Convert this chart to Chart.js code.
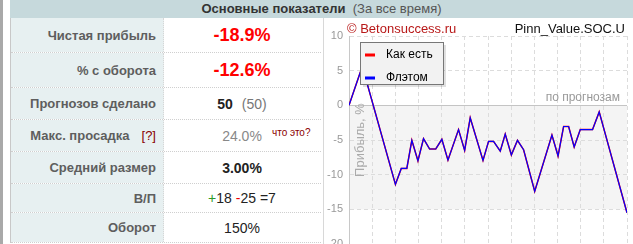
<!DOCTYPE html>
<html>
<head>
    <meta charset="utf-8">
    <title>Основные показатели</title>
    <script src="https://cdn.jsdelivr.net/npm/chart.js"></script>
    <style>
        body { margin: 0; width: 633px; height: 244px; overflow: hidden; position: relative; background: #fff;
               font-family: 'Liberation Sans', Arial, sans-serif; }
        #bar { position: absolute; left: 0; top: 0; width: 3px; height: 244px; background: #a9a9a9; }
        #head { position: absolute; left: 10px; top: 0; width: 623px; height: 18px; background: #c6d9dc;
                text-align: center; font-size: 13px; line-height: 17px; color: #333; }
        #head span { color: #555; }
        #stats { position: absolute; left: 10px; top: 18px; width: 310px; border-left: 1px solid #c8c8c8; }
        .row { display: flex; border-bottom: 1px dotted #cfcfcf; box-sizing: border-box; }
        .lab { width: 153px; background: #e7f0f1; text-align: right; padding-right: 7px; box-sizing: border-box;
               font-size: 13px; font-weight: bold; color: #5e5e5e; display: flex; align-items: center; justify-content: flex-end;
               border-right: 1px dotted #d6d6d6; }
        .val { width: 156px; text-align: center; font-size: 14px; color: #222; display: flex; align-items: center;
               justify-content: center; position: relative; }
        .q { color: #800; font-weight: normal; margin-left: 12px; }
        #panel { position: absolute; left: 323px; top: 18px; width: 310px; height: 250px; background: #fff;
                 border-left: 1px solid #d8d8d8; }
        #grafico { position: absolute; left: 0; top: 1px; }
        #copy { position: absolute; left: 23px; top: 3px; font-size: 13px; color: #b81818; }
        #nome { position: absolute; right: 9px; top: 3px; font-size: 13px; color: #111; }
    </style>
</head>
<body>
    <div id="bar"></div>
    <div id="head"><b>Основные показатели</b>&nbsp; <span>(За все время)</span></div>
    <div id="stats">
        <div class="row" style="height:35px"><div class="lab">Чистая прибыль</div><div class="val" style="font-size:18px;font-weight:bold;color:#f00">-18.9%</div></div>
        <div class="row" style="height:35px"><div class="lab">% с оборота</div><div class="val" style="font-size:18px;font-weight:bold;color:#f00">-12.6%</div></div>
        <div class="row" style="height:32px"><div class="lab">Прогнозов сделано</div><div class="val"><b>50</b><span style="color:#777;margin-left:9px">(50)</span></div></div>
        <div class="row" style="height:32px"><div class="lab">Макс. просадка<span class="q">[?]</span></div><div class="val" style="color:#888">24.0%<span style="position:absolute;left:108px;top:7px;font-size:10px;color:#8b0000">что это?</span></div></div>
        <div class="row" style="height:32px"><div class="lab">Средний размер</div><div class="val" style="font-weight:bold">3.00%</div></div>
        <div class="row" style="height:29px"><div class="lab">В/П</div><div class="val"><span style="color:#2a9a2a">+</span>18&nbsp;<span style="color:#e00">-</span>25&nbsp;=7</div></div>
        <div class="row" style="height:30px"><div class="lab">Оборот</div><div class="val">150%</div></div>
    </div>
    <div id="panel">
        <canvas id="grafico" width="310" height="245"></canvas>
        <div id="copy">© Betonsuccess.ru</div>
        <div id="nome">Pinn_Value.SOC.U</div>
    </div>
    <script>
        // номер прогноза (по оси X) и накопленная прибыль, % — вершины ломаной
        const prognozy = [0, 2.0, 3.1, 8.35, 9.4, 10.4, 11.3, 12.4, 13.4, 14.5, 15.6, 16.7, 17.8, 19.7, 20.8, 21.8,
            24.1, 25.1, 26.0, 27.2, 28.1, 29.2, 30.3, 31.4, 33.4, 36.5, 37.6, 38.6, 39.5, 40.5, 41.6, 43.8, 45.0, 50.0];
        const pribylFlat = [0, 4.7, 3.6, -11.4, -9.1, -9.1, -5.05, -8.0, -4.8, -6.3, -6.3, -4.9, -7.9, -3.5, -6.5, -1.8,
            -7.95, -5.2, -5.2, -6.6, -4.15, -7.15, -5.05, -6.4, -12.4, -4.3, -7.3, -3.05, -3.05, -6.0, -3.5, -3.5, -0.95, -15.5];
        // "Как есть" совпадает с "Флэтом" (все ставки одного размера)
        const pribylKakEst = pribylFlat;
        const seriesLabels = ['Как есть', 'Флэтом'];
        const yMin = -20, yMax = 10, yStep = 5;
        const xMax = 50;

        const fonte = "'Liberation Sans', Arial, sans-serif";

        const fundo = {
            id: 'fundo',
            beforeDraw(chart) {
                const { ctx, chartArea: a, scales: { y } } = chart;
                ctx.save();
                ctx.fillStyle = '#f4f4f4';
                ctx.fillRect(a.left, y.getPixelForValue(0), a.right - a.left, y.getPixelForValue(-15) - y.getPixelForValue(0));
                ctx.restore();
            },
            beforeDatasetsDraw(chart) {
                const { ctx, chartArea: a, scales: { y } } = chart;
                ctx.save();
                ctx.font = '12px ' + fonte;
                ctx.fillStyle = '#999';
                ctx.textAlign = 'right';
                ctx.textBaseline = 'alphabetic';
                ctx.fillText('по прогнозам', a.right - 7, y.getPixelForValue(0) - 4);
                ctx.translate(a.left + 11, y.getPixelForValue(-5));
                ctx.rotate(-Math.PI / 2);
                ctx.font = '13px ' + fonte;
                ctx.fillStyle = '#aaa';
                ctx.textAlign = 'center';
                ctx.textBaseline = 'middle';
                ctx.fillText('Прибыль, %', 0, 0);
                ctx.restore();
            },
            afterDraw(chart) {
                const { ctx, chartArea: a } = chart;
                const lx = a.left + 11, ly = a.top + 6, w = 83, h = 42;
                ctx.save();
                ctx.fillStyle = 'rgba(0,0,0,0.12)';
                ctx.fillRect(lx + 3, ly + 3, w, h);
                ctx.fillStyle = '#f2f2f2';
                ctx.fillRect(lx, ly, w, h);
                ctx.strokeStyle = '#777';
                ctx.lineWidth = 1;
                ctx.strokeRect(lx + 0.5, ly + 0.5, w, h);
                ctx.font = '12px ' + fonte;
                ctx.textBaseline = 'middle';
                chart.data.datasets.forEach((ds, i) => {
                    const yy = ly + 13 + i * 23;
                    ctx.fillStyle = ds.borderColor;
                    ctx.fillRect(lx + 5, yy - 1.5, 10, 3);
                    ctx.fillStyle = '#000';
                    ctx.fillText(ds.label, lx + 26, yy);
                });
                ctx.restore();
            }
        };

        const pontos = arr => prognozy.map((x, i) => ({ x: x, y: arr[i] }));

        const ctx = document.getElementById('grafico').getContext('2d');
        const grafico = new Chart(ctx, {
            type: 'line',
            data: {
                datasets: [{
                    label: seriesLabels[0],
                    data: pontos(pribylKakEst),
                    borderColor: '#ff0000',
                    borderWidth: 1.5,
                    pointRadius: 0,
                    order: 2
                }, {
                    label: seriesLabels[1],
                    data: pontos(pribylFlat),
                    borderColor: '#0000ff',
                    borderWidth: 1.2,
                    pointRadius: 0,
                    order: 1
                }]
            },
            options: {
                responsive: false,
                animation: false,
                devicePixelRatio: 1,
                layout: { padding: { top: 17, bottom: 20, left: 0, right: 7 } },
                plugins: { legend: { display: false }, tooltip: { enabled: false } },
                scales: {
                    x: {
                        type: 'linear',
                        min: 0,
                        max: xMax,
                        ticks: { display: false, count: 13 },
                        grid: { color: '#dcdcdc', drawTicks: false },
                        border: { display: false, dash: [4, 3] },
                        afterFit(s) { s.height = 0; }
                    },
                    y: {
                        min: yMin,
                        max: yMax,
                        ticks: { stepSize: yStep, padding: 6, color: '#999', font: { family: fonte, size: 11 } },
                        grid: {
                            drawTicks: false,
                            color: c => (c.tick && c.tick.value === 0) ? '#c4c4c4' : '#dcdcdc'
                        },
                        border: {
                            color: '#c8c8c8',
                            dash: c => (c.tick && c.tick.value === 0) ? [] : [4, 3]
                        },
                        afterFit(s) { s.width = 25; }
                    }
                }
            },
            plugins: [fundo]
        });
    </script>
</body>
</html>
